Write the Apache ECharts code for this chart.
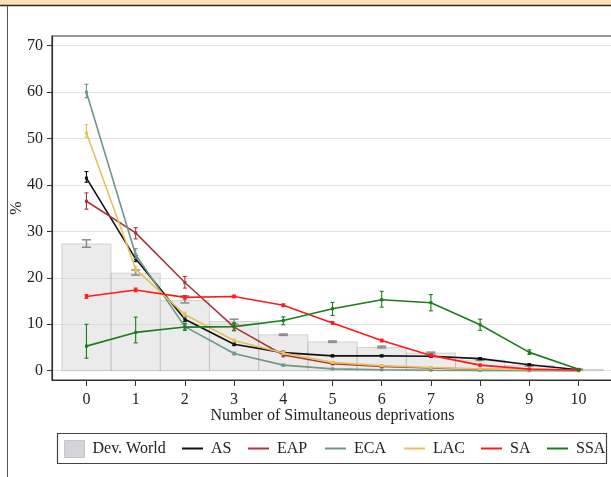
<!DOCTYPE html>
<html>
<head>
<meta charset="utf-8">
<script src="https://cdn.jsdelivr.net/npm/echarts@6/dist/echarts.min.js"></script>
<style>html,body{margin:0;padding:0;background:#fff;}#c{width:611px;height:477px;}</style>
</head>
<body>
<div id="c"></div>
<script>
// ---------- data ----------
const xValues = [0, 1, 2, 3, 4, 5, 6, 7, 8, 9, 10];
const yTicks = [0, 10, 20, 30, 40, 50, 60, 70];

const devWorld   = [27.3, 21.0, 15.1, 10.6, 7.75, 6.2, 5.0, 3.8, 2.3, 1.1, 0.3];
const devWorldLo = [26.6, 20.6, 14.6, 10.0, 7.6, 6.1, 4.9, 3.6, 2.2, 1.0, 0.2];
const devWorldHi = [28.2, 21.7, 16.1, 11.1, 7.9, 6.4, 5.3, 4.0, 2.5, 1.3, 0.35];

const AS   = [41.5, 24.1, 11.1, 5.7, 3.9, 3.2, 3.2, 3.1, 2.6, 1.3, 0.2];
const ASLo = [40.6, 23.5, 10.6, 5.4, 3.6, 3.0, 3.0, 2.9, 2.4, 1.1, 0.1];
const ASHi = [42.9, 24.8, 11.6, 6.0, 4.2, 3.4, 3.4, 3.3, 2.8, 1.5, 0.3];

const EAP   = [36.5, 29.7, 19.0, 9.4, 3.4, 1.5, 0.9, 0.6, 0.3, 0.15, 0.05];
const EAPLo = [34.8, 28.4, 17.8, 8.6, 3.0, 1.3, 0.7, 0.5, 0.2, 0.1, 0.0];
const EAPHi = [38.3, 30.8, 20.3, 10.2, 3.8, 1.7, 1.1, 0.7, 0.4, 0.2, 0.1];

const ECA   = [60.0, 25.0, 9.5, 3.7, 1.2, 0.4, 0.2, 0.1, 0.05, 0.0, 0.0];
const ECALo = [58.8, 24.2, 8.9, 3.4, 1.0, 0.3, 0.1, 0.05, 0.0, 0.0, 0.0];
const ECAHi = [61.7, 26.3, 10.0, 4.0, 1.4, 0.5, 0.3, 0.15, 0.1, 0.05, 0.05];

const LAC   = [51.2, 21.9, 12.1, 6.5, 3.8, 1.8, 1.1, 0.7, 0.4, 0.2, 0.05];
const LACLo = [50.3, 21.3, 11.6, 6.2, 3.5, 1.6, 0.9, 0.6, 0.3, 0.1, 0.0];
const LACHi = [53.0, 22.5, 12.6, 6.8, 4.1, 2.0, 1.3, 0.8, 0.5, 0.3, 0.1];

const SA   = [16.0, 17.4, 15.8, 16.0, 14.1, 10.3, 6.5, 3.3, 1.2, 0.35, 0.1];
const SALo = [15.6, 17.0, 15.4, 15.7, 13.8, 10.0, 6.2, 3.0, 1.0, 0.2, 0.0];
const SAHi = [16.4, 17.8, 16.2, 16.3, 14.4, 10.6, 6.8, 3.6, 1.4, 0.5, 0.2];

const SSA   = [5.3, 8.25, 9.4, 9.5, 10.8, 13.35, 15.3, 14.65, 9.9, 3.95, 0.3];
const SSALo = [2.7, 6.0, 8.7, 8.7, 9.9, 11.9, 13.7, 12.9, 8.7, 3.5, 0.2];
const SSAHi = [10.0, 11.55, 10.2, 10.3, 11.6, 14.7, 17.1, 16.4, 11.1, 4.5, 0.4];

const lineNames = ['AS', 'EAP', 'ECA', 'LAC', 'SA', 'SSA'];
const lineColors = ['#111111', '#a8353a', '#6e9787', '#e6c05a', '#ff1a1a', '#1b7c1b'];
const lineData = [AS, EAP, ECA, LAC, SA, SSA];
const lineLo = [ASLo, EAPLo, ECALo, LACLo, SALo, SSALo];
const lineHi = [ASHi, EAPHi, ECAHi, LACHi, SAHi, SSAHi];

const xName = 'Number of Simultaneous deprivations';
const yName = '%';
const barName = 'Dev. World';

// ---------- chart ----------
const FONT = '"Liberation Serif", "DejaVu Serif", serif';
const chart = echarts.init(document.getElementById('c'), null, {renderer: 'canvas'});

function errRender(capHalf, color, width) {
  return function (params, api) {
    const x = api.value(0);
    const lo = api.coord([x, api.value(1)]);
    const hi = api.coord([x, api.value(2)]);
    const style = {stroke: color, lineWidth: width};
    return {
      type: 'group',
      children: [
        {type: 'line', shape: {x1: lo[0], y1: lo[1], x2: hi[0], y2: hi[1]}, style},
        {type: 'line', shape: {x1: lo[0] - capHalf, y1: lo[1], x2: lo[0] + capHalf, y2: lo[1]}, style},
        {type: 'line', shape: {x1: hi[0] - capHalf, y1: hi[1], x2: hi[0] + capHalf, y2: hi[1]}, style}
      ]
    };
  };
}

const series = [];
// Dev. World bars
series.push({
  name: barName,
  type: 'custom',
  z: 1,
  data: xValues.map((x, i) => [x, devWorld[i]]),
  renderItem: function (params, api) {
    const x = api.value(0);
    const p0 = api.coord([x - 0.5, api.value(1)]);
    const p1 = api.coord([x + 0.5, 0]);
    return {
      type: 'rect',
      shape: {x: p0[0], y: p0[1], width: p1[0] - p0[0], height: p1[1] - p0[1]},
      style: {fill: 'rgba(205,205,205,0.4)', stroke: 'rgba(170,170,170,0.45)', lineWidth: 1}
    };
  }
});
series.push({
  name: barName + ' CI',
  type: 'custom',
  z: 2,
  data: xValues.map((x, i) => [x, devWorldLo[i], devWorldHi[i]]),
  renderItem: errRender(4.5, '#8a8a8a', 1.5)
});
lineNames.forEach((n, k) => {
  series.push({
    name: n,
    type: 'line',
    z: 4 + k,
    data: xValues.map((x, i) => [x, lineData[k][i]]),
    symbol: 'rect',
    symbolSize: 3,
    showSymbol: true,
    color: lineColors[k],
    lineStyle: {width: 1.6, color: lineColors[k]},
    itemStyle: {color: lineColors[k]},
    emphasis: {disabled: true},
    animation: false
  });
  series.push({
    name: n + ' CI',
    type: 'custom',
    z: 4 + k,
    data: xValues.map((x, i) => [x, lineLo[k][i], lineHi[k][i]]),
    renderItem: errRender(2, lineColors[k], 1.1)
  });
});

// Legend layout
const legendItems = [barName].concat(lineNames);
const legendLefts = [64, 182, 248, 325, 404, 481, 547];
const legends = legendItems.map((n, i) => ({
  show: true,
  data: [i === 0 ? {name: n, icon: 'rect', itemStyle: {color: '#d3d5d9', borderColor: '#c4c6ca', borderWidth: 1}} : {name: n, icon: 'rect'}],
  left: legendLefts[i],
  top: 440,
  itemWidth: i === 0 ? 20 : 21,
  itemHeight: i === 0 ? 17 : 2,
  padding: 0,
  selectedMode: false,
  textStyle: {fontFamily: FONT, fontSize: 16, color: '#222', padding: [0, 0, 0, 3], height: 17, lineHeight: 17}
}));

const option = {
  backgroundColor: '#ffffff',
  animation: false,
  textStyle: {fontFamily: FONT},
  grid: {left: 52, top: 36, right: -2, bottom: 97, outerBoundsMode: 'none', containLabel: false, show: true, borderColor: '#333', borderWidth: 1.2, backgroundColor: 'transparent'},
  legend: legends,
  xAxis: {
    type: 'value',
    min: -0.7,
    max: 10.7,
    name: xName,
    nameLocation: 'middle',
    nameGap: 28,
    nameMoveOverlap: false,
    nameTextStyle: {fontFamily: FONT, fontSize: 16, color: '#222'},
    axisLine: {show: true, onZero: false, lineStyle: {color: '#333', width: 1.2}},
    axisTick: {show: true, length: 6, customValues: xValues, lineStyle: {color: '#333'}},
    axisLabel: {customValues: xValues, margin: 12, fontFamily: FONT, fontSize: 16, color: '#222'},
    splitLine: {show: false}
  },
  yAxis: {
    type: 'value',
    min: -2,
    max: 72.1,
    name: yName,
    nameLocation: 'middle',
    nameGap: 27,
    nameMoveOverlap: false,
    nameRotate: 90,
    nameTextStyle: {fontFamily: FONT, fontSize: 16, color: '#222'},
    axisLine: {show: true, onZero: false, lineStyle: {color: '#333', width: 1.2}},
    axisTick: {show: true, length: 5, customValues: yTicks, lineStyle: {color: '#333'}},
    axisLabel: {customValues: yTicks, margin: 9, fontFamily: FONT, fontSize: 16, color: '#222'},
    splitLine: {show: true, lineStyle: {color: '#e2e2e2', width: 1.2}}
  },
  graphic: [
    {type: 'rect', shape: {x: 0, y: 0, width: 611, height: 5}, style: {fill: '#fde2b8'}, z: 0},
    {type: 'line', shape: {x1: 0, y1: 5.5, x2: 611, y2: 5.5}, style: {stroke: '#2a2a2a', lineWidth: 1.5}},
    {type: 'line', shape: {x1: 7.5, y1: 5.5, x2: 7.5, y2: 477}, style: {stroke: '#555', lineWidth: 1}},
    {type: 'rect', shape: {x: 57.5, y: 433.5, width: 549, height: 30}, style: {fill: 'none', stroke: '#444', lineWidth: 1.2}}
  ],
  series: series
};
chart.setOption(option);
</script>
</body>
</html>
